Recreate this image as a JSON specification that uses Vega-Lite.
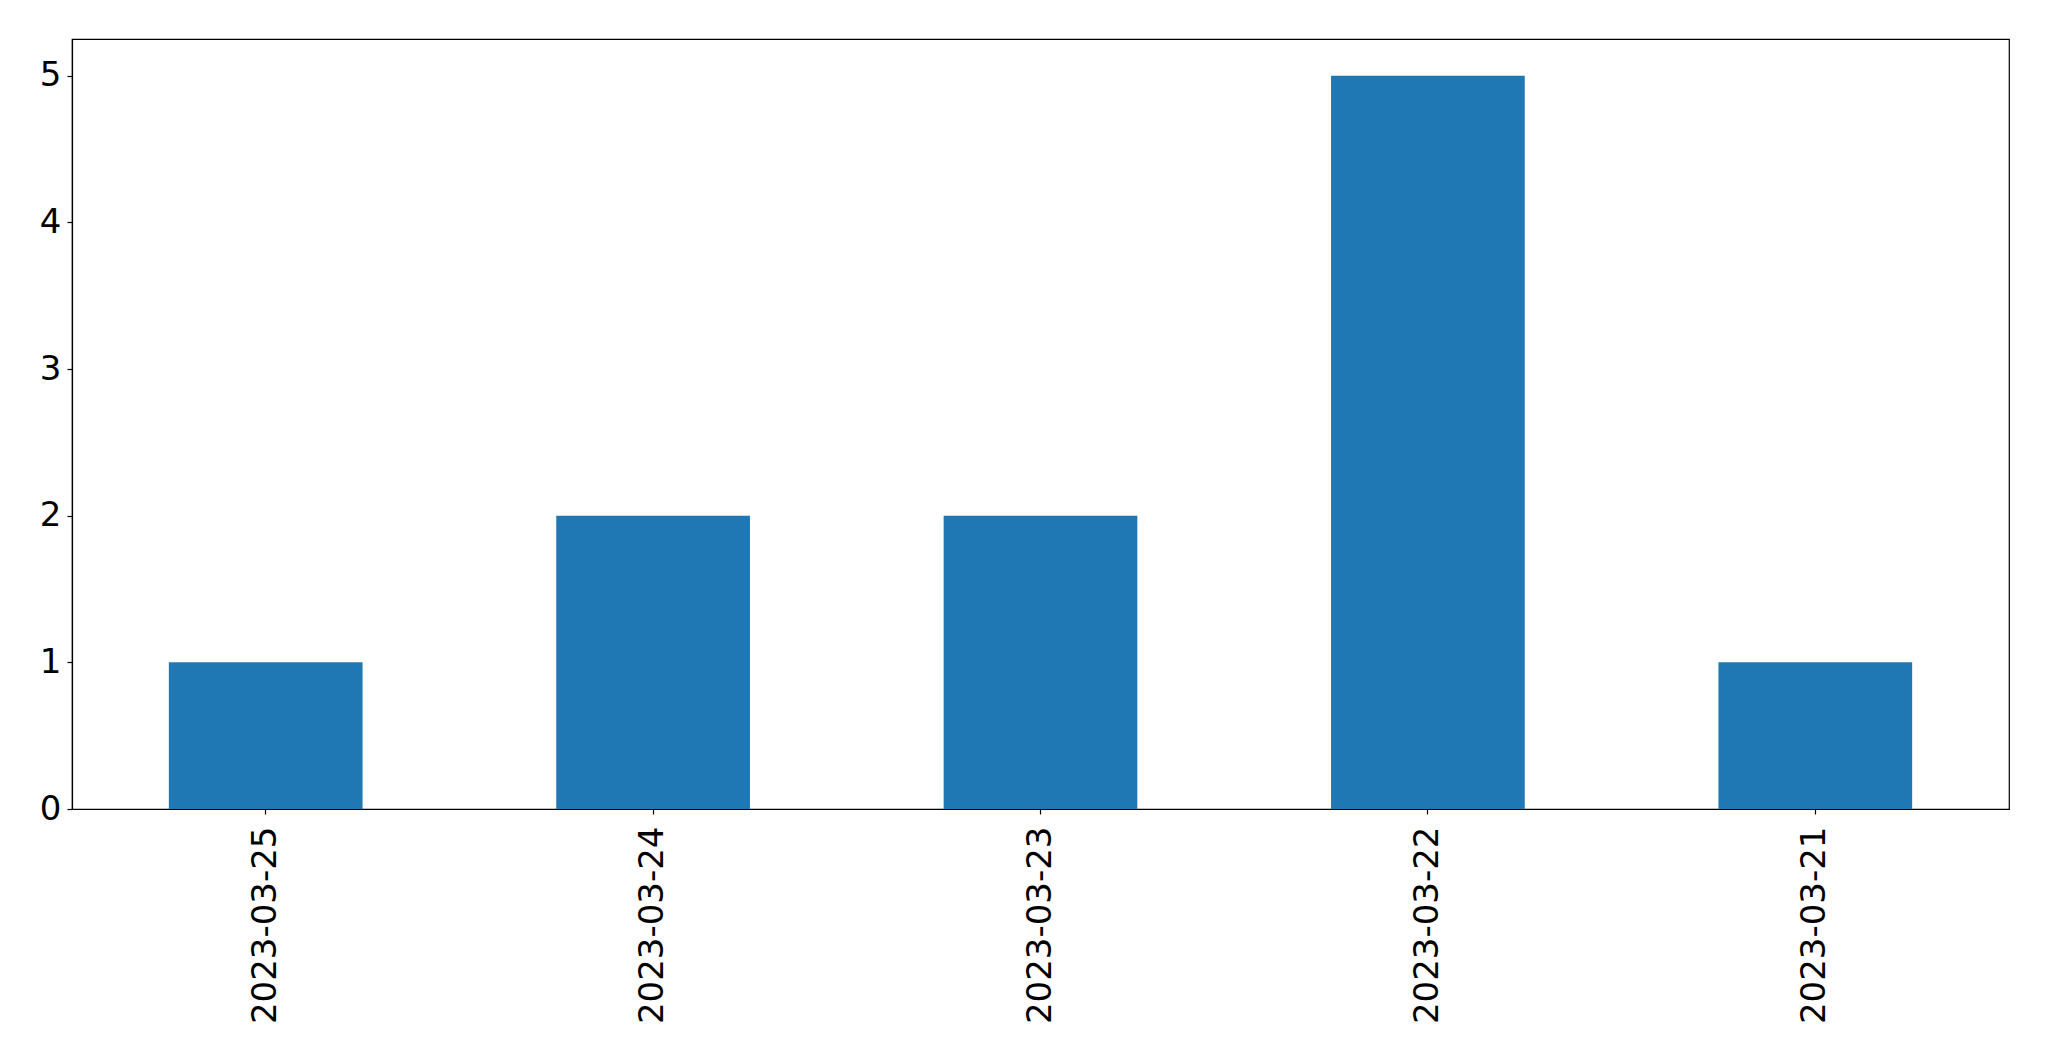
{
  "$schema": "https://vega.github.io/schema/vega-lite/v6.json",
  "width": 1937,
  "height": 770,
  "autosize": {"type": "none"},
  "padding": {"left": 72, "top": 39, "right": 40, "bottom": 252},
  "background": "white",
  "config": {
    "view": {"stroke": "black", "strokeWidth": 1.2},
    "font": "DejaVu Sans",
    "axis": {
      "grid": false,
      "domainColor": "black",
      "domainWidth": 1.2,
      "tickColor": "black",
      "tickWidth": 1.2,
      "tickSize": 5,
      "labelFont": "DejaVu Sans",
      "labelFontSize": 34,
      "labelColor": "black",
      "labelLimit": 0,
      "title": null
    }
  },
  "data": {
    "values": [
      {"date": "2023-03-25", "count": 1},
      {"date": "2023-03-24", "count": 2},
      {"date": "2023-03-23", "count": 2},
      {"date": "2023-03-22", "count": 5},
      {"date": "2023-03-21", "count": 1}
    ]
  },
  "mark": {"type": "bar", "color": "#1f77b4"},
  "encoding": {
    "x": {
      "field": "date",
      "type": "nominal",
      "sort": null,
      "scale": {"paddingInner": 0.5, "paddingOuter": 0.25},
      "axis": {"labelAngle": -90, "labelPadding": 12, "labelBaseline": "middle", "labelAlign": "right"}
    },
    "y": {
      "field": "count",
      "type": "quantitative",
      "scale": {"domain": [0, 5.25], "nice": false},
      "axis": {"values": [0, 1, 2, 3, 4, 5], "labelPadding": 6, "format": "d"}
    }
  }
}
